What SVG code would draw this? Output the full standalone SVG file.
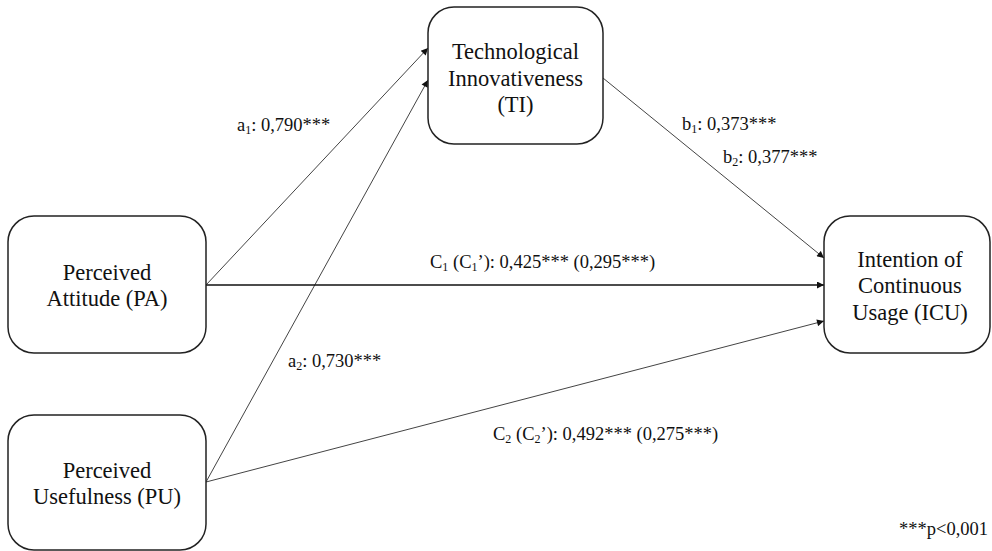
<svg xmlns="http://www.w3.org/2000/svg" width="992" height="551" viewBox="0 0 992 551">
<defs>
<marker id="arr" viewBox="0 0 10 10" refX="10" refY="5" markerWidth="9" markerHeight="7" markerUnits="userSpaceOnUse" orient="auto">
<path d="M0,0 L10,5 L0,10 z" fill="#111"/>
</marker>
<style>
.box{fill:#fff;stroke:#222;stroke-width:1.5}
.nt{font-family:"Liberation Serif","Times New Roman",serif;font-size:22.5px;fill:#111;text-anchor:middle}
.lb{font-family:"Liberation Serif","Times New Roman",serif;font-size:18.5px;fill:#111}
.sub{font-size:12px}
.ln{stroke:#444;stroke-width:1;fill:none;marker-end:url(#arr)}
.lnd{stroke:#111;stroke-width:1.3;fill:none;marker-end:url(#arr)}
</style>
</defs>
<rect width="992" height="551" fill="#fff"/>
<g id="connectors">
<line class="ln" x1="206" y1="285" x2="428" y2="48"/>
<line class="ln" x1="206" y1="482" x2="428" y2="80"/>
<line class="ln" x1="603" y1="78" x2="824" y2="258"/>
<line class="lnd" x1="206" y1="285" x2="824" y2="285"/>
<line class="ln" x1="206" y1="482" x2="824" y2="321"/>
</g>
<g id="node-TI">
<rect class="box" x="428" y="7" width="175" height="137" rx="26"/>
<text class="nt" x="515.5" y="59">Technological</text>
<text class="nt" x="515.5" y="85.5">Innovativeness</text>
<text class="nt" x="515.5" y="112">(TI)</text>
</g>
<g id="node-PA">
<rect class="box" x="8" y="216" width="198" height="137" rx="26"/>
<text class="nt" x="107" y="280">Perceived</text>
<text class="nt" x="107" y="306">Attitude (PA)</text>
</g>
<g id="node-PU">
<rect class="box" x="8" y="415" width="198" height="135" rx="26"/>
<text class="nt" x="107" y="478">Perceived</text>
<text class="nt" x="107" y="504">Usefulness (PU)</text>
</g>
<g id="node-ICU">
<rect class="box" x="824" y="216" width="166" height="137" rx="26"/>
<text class="nt" x="910" y="267">Intention of</text>
<text class="nt" x="910" y="293">Continuous</text>
<text class="nt" x="910" y="320">Usage (ICU)</text>
</g>
<g id="labels">
<text class="lb" x="237" y="131">a<tspan class="sub" dy="3">1</tspan><tspan dy="-3">: 0,790***</tspan></text>
<text class="lb" x="288" y="367">a<tspan class="sub" dy="3">2</tspan><tspan dy="-3">: 0,730***</tspan></text>
<text class="lb" x="682" y="130">b<tspan class="sub" dy="3">1</tspan><tspan dy="-3">: 0,373***</tspan></text>
<text class="lb" x="723" y="163">b<tspan class="sub" dy="3">2</tspan><tspan dy="-3">: 0,377***</tspan></text>
<text class="lb" x="430" y="268">C<tspan class="sub" dy="3">1</tspan><tspan dy="-3"> (C</tspan><tspan class="sub" dy="3">1</tspan><tspan dy="-3">’): 0,425*** (0,295***)</tspan></text>
<text class="lb" x="493" y="440">C<tspan class="sub" dy="3">2</tspan><tspan dy="-3"> (C</tspan><tspan class="sub" dy="3">2</tspan><tspan dy="-3">’): 0,492*** (0,275***)</tspan></text>
<text class="lb" x="899" y="535">***p&lt;0,001</text>
</g>
</svg>
